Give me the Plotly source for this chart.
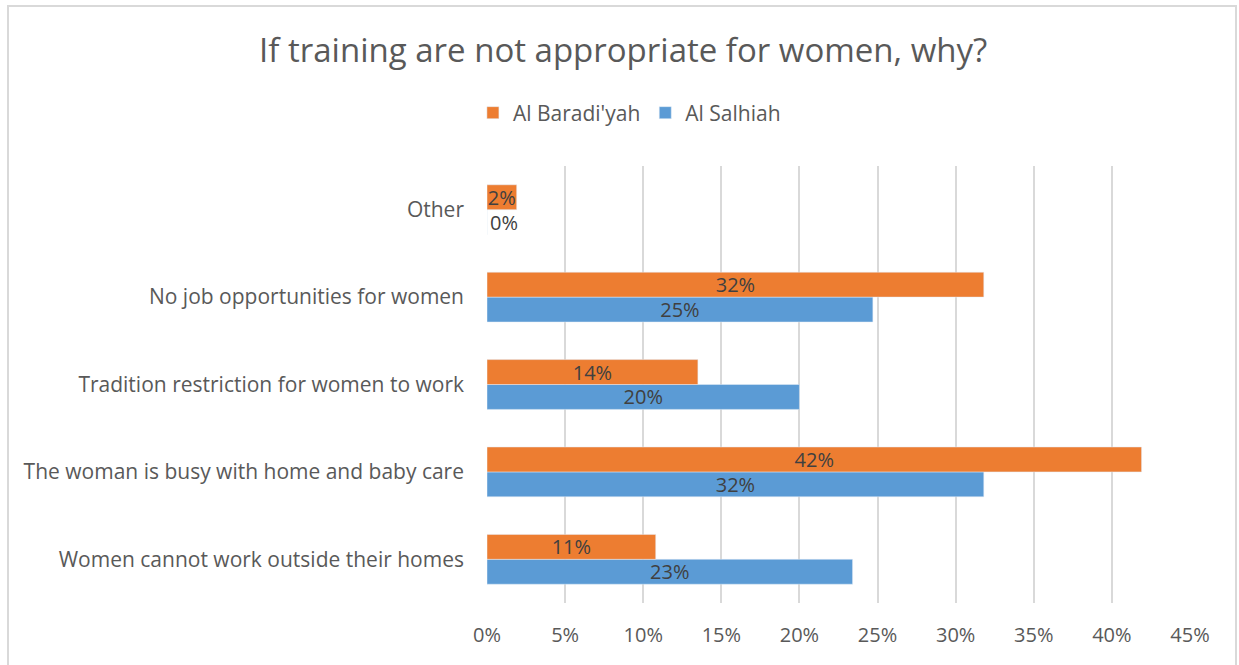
import plotly.graph_objects as go

categories = ["Women cannot work outside their homes",
              "The woman is busy with home and baby care",
              "Tradition restriction for women to work",
              "No job opportunities for women",
              "Other"]
baradiyah = [10.8, 41.9, 13.5, 31.8, 1.9]
salhiah = [23.4, 31.8, 20.0, 24.7, 0.0]
tick_vals = [0, 5, 10, 15, 20, 25, 30, 35, 40, 45]
tick_text = ["0%", "5%", "10%", "15%", "20%", "25%", "30%", "35%", "40%", "45%"]

FONT = "'Open Sans', 'Noto Sans', sans-serif"
W, H = 1239, 665
ML, MR, MT, MB = 487, 49, 166, 62

def labels(vals):
    return [f"{round(v):.0f}%" for v in vals]

fig = go.Figure()
fig.add_trace(go.Bar(
    y=categories, x=salhiah, orientation="h", name="Al Salhiah",
    marker=dict(color="#5B9BD5"),
    text=labels(salhiah),
    textposition=["inside", "inside", "inside", "inside", "outside"],
    insidetextanchor="middle", textangle=0, cliponaxis=False,
    textfont=dict(family=FONT, size=20, color="#404040"),
    outsidetextfont=dict(family=FONT, size=20, color="#404040"),
))
fig.add_trace(go.Bar(
    y=categories, x=baradiyah, orientation="h", name="Al Baradi'yah",
    marker=dict(color="#ED7D31"),
    text=labels(baradiyah),
    textposition="inside",
    insidetextanchor="middle", textangle=0, cliponaxis=False,
    textfont=dict(family=FONT, size=20, color="#404040"),
))

# chart border
pw = W - ML - MR
ph = H - MT - MB
fig.add_shape(type="rect", xref="paper", yref="paper",
              x0=(8 - ML) / pw, x1=(W - 3 - ML) / pw,
              y0=-(MB + 10) / ph, y1=(H - 6 - MB) / ph,
              line=dict(color="#D9D9D9", width=2), fillcolor="rgba(0,0,0,0)", layer="below")

fig.update_layout(
    width=W, height=H,
    margin=dict(l=ML, r=MR, t=MT, b=MB),
    paper_bgcolor="white", plot_bgcolor="white",
    barmode="group", bargap=0.43, bargroupgap=0,
    uniformtext=dict(minsize=20, mode="show"),
    title=dict(text="If training are not appropriate for women, why?",
               x=0.503, xref="container", xanchor="center",
               y=1 - 50 / H, yref="container", yanchor="middle",
               font=dict(family=FONT, size=33, color="#595959")),
    legend=dict(orientation="h", traceorder="reversed",
                x=0.508, xref="container", xanchor="center",
                y=1 - 113 / H, yref="container", yanchor="middle",
                font=dict(family=FONT, size=21, color="#595959"),
                itemwidth=30),
    font=dict(family=FONT, size=21, color="#595959"),
    xaxis=dict(range=[0, 45], tickvals=tick_vals, ticktext=tick_text,
               showgrid=True, gridcolor="#D9D9D9", gridwidth=2,
               zeroline=False, showline=False, ticks="", ticklabelstandoff=18,
               tickfont=dict(family=FONT, size=20, color="#595959")),
    yaxis=dict(categoryorder="array", categoryarray=categories,
               showgrid=False, zeroline=False, showline=False, ticks="",
               ticklabelstandoff=22,
               tickfont=dict(family=FONT, size=21, color="#595959")),
)

fig.write_html("out.html", config={"displayModeBar": False},
               post_script="document.body.style.margin='0';")
